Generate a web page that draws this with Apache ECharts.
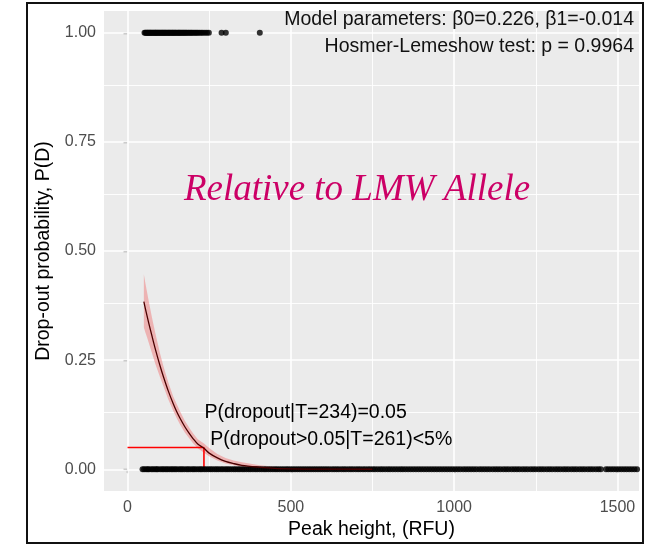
<!DOCTYPE html>
<html><head><meta charset="utf-8">
<script src="https://cdn.jsdelivr.net/npm/echarts@6/dist/echarts.min.js"></script>
<style>
html,body{margin:0;padding:0;background:#fff}
#c{width:648px;height:545px}
#b{position:absolute;left:26px;top:2px;width:614px;height:538px;border:2px solid #111;pointer-events:none}
</style>
</head><body><div id="c"></div><div id="b"></div>
<script>
// axis breaks / gridlines
const xMajor = [0, 500, 1000, 1500];
const xMinor = [250, 750, 1250];
const yMajor = [0, 0.25, 0.5, 0.75, 1];
const yMinor = [0.125, 0.375, 0.625, 0.875];

// observed drop-outs (P(D)=1)
const dropoutX = [52, 55, 57, 60, 62, 64, 67, 69, 71, 74, 76, 79, 81, 84, 86, 88, 91, 93, 96, 98, 101, 103, 106, 108, 111, 113, 116, 118, 121, 124, 126, 129, 131, 134, 137, 139, 142, 145, 147, 150, 153, 156, 158, 161, 164, 167, 170, 173, 176, 179, 182, 186, 189, 193, 196, 200, 204, 208, 212, 216, 221, 226, 231, 237, 243, 249, 288, 301, 405];

// observed detected alleles (P(D)=0)
const detectedX = [46, 51, 57, 62, 66, 73, 78, 84, 89, 93, 100, 106, 111, 117, 122, 128, 134, 139, 145, 150, 157, 163, 168, 174, 181, 186, 192, 199, 204, 210, 217, 223, 228, 235, 241, 248, 254, 260, 267, 273, 279, 286, 292, 299, 305, 311, 318, 325, 331, 338, 344, 351, 357, 364, 371, 377, 384, 391, 397, 404, 411, 418, 424, 431, 438, 445, 452, 458, 465, 472, 479, 486, 492, 499, 506, 513, 520, 527, 534, 541, 548, 555, 562, 569, 576, 583, 590, 597, 604, 611, 618, 626, 633, 640, 647, 655, 662, 669, 677, 684, 691, 699, 706, 713, 721, 728, 736, 743, 751, 758, 766, 774, 781, 789, 797, 804, 812, 820, 828, 836, 843, 851, 859, 867, 875, 883, 891, 899, 907, 915, 923, 931, 939, 947, 955, 963, 971, 979, 987, 995, 1003, 1011, 1019, 1028, 1036, 1044, 1052, 1060, 1068, 1077, 1085, 1093, 1101, 1109, 1118, 1126, 1134, 1142, 1151, 1159, 1167, 1176, 1184, 1192, 1200, 1209, 1217, 1225, 1234, 1242, 1250, 1259, 1267, 1275, 1284, 1292, 1300, 1309, 1317, 1325, 1334, 1342, 1350, 1359, 1367, 1375, 1384, 1392, 1400, 1409, 1417, 1425, 1434, 1442, 1449, 1465, 1472, 1480, 1488, 1496, 1504, 1512, 1520, 1528, 1536, 1544, 1552, 1560, 1568];

// fitted logistic curve and confidence band
const fitX   = [50, 55, 60, 65, 75, 85, 100, 110, 125, 140, 150, 160, 175, 190, 200, 215, 234, 250, 275, 300, 325, 350, 400, 450, 500, 600, 750];
const fitP   = [0.384, 0.367, 0.351, 0.335, 0.305, 0.276, 0.236, 0.212, 0.179, 0.150, 0.133, 0.118, 0.098, 0.081, 0.071, 0.058, 0.048, 0.037, 0.026, 0.018, 0.013, 0.009, 0.005, 0.002, 0.001, 0.0003, 0.0001];
const ciLow  = [0.325, 0.313, 0.302, 0.290, 0.266, 0.242, 0.210, 0.190, 0.160, 0.134, 0.118, 0.104, 0.085, 0.070, 0.060, 0.048, 0.038, 0.030, 0.020, 0.013, 0.009, 0.006, 0.003, 0.001, 0.0004, 0.0001, 0];
const ciHigh = [0.447, 0.425, 0.405, 0.385, 0.347, 0.312, 0.264, 0.236, 0.199, 0.167, 0.150, 0.134, 0.112, 0.094, 0.083, 0.069, 0.059, 0.049, 0.035, 0.026, 0.020, 0.016, 0.010, 0.006, 0.003, 0.001, 0.0003];

// threshold annotation
const thresholdT = 234;
const thresholdP = 0.05;
const annotText1 = 'P(dropout|T=234)=0.05';
const annotText2 = 'P(dropout>0.05|T=261)<5%';
const annotPos1 = [234, 0.130];
const annotPos2 = [252, 0.068];

const SANS = '"Liberation Sans", Arial, sans-serif';
const chart = echarts.init(document.getElementById('c'), null, {renderer: 'canvas'});

const gridLines = [];
xMajor.forEach(v => gridLines.push({xAxis: v, lineStyle: {width: 1.6}}));
xMinor.forEach(v => gridLines.push({xAxis: v, lineStyle: {width: 0.9}}));
yMajor.forEach(v => gridLines.push({yAxis: v, lineStyle: {width: 1.6}}));
yMinor.forEach(v => gridLines.push({yAxis: v, lineStyle: {width: 0.9}}));

const annotLabel = text => ({show: true, position: 'right', distance: 0, formatter: text,
  fontSize: 19.5, fontFamily: SANS, color: '#000', opacity: 1, textBorderWidth: 0});

chart.setOption({
  animation: false,
  grid: {left: 104, right: 9, top: 11, bottom: 52, show: true, backgroundColor: '#EBEBEB', borderWidth: 0},
  xAxis: {
    type: 'value', min: -72, max: 1566,
    splitLine: {show: false}, axisLine: {show: false},
    axisTick: {show: true, length: 4, lineStyle: {color: '#333', width: 1.2}, customValues: xMajor},
    axisLabel: {customValues: xMajor, color: '#4D4D4D', fontSize: 16, margin: 8, fontFamily: SANS,
      formatter: v => String(v)},
    name: 'Peak height, (RFU)', nameLocation: 'middle', nameGap: 28,
    nameTextStyle: {fontSize: 19.5, color: '#000', fontFamily: SANS}
  },
  yAxis: {
    type: 'value', min: -0.05, max: 1.05,
    splitLine: {show: false}, axisLine: {show: false},
    axisTick: {show: true, length: 4, lineStyle: {color: '#333', width: 1.2}, customValues: yMajor},
    axisLabel: {customValues: yMajor, color: '#4D4D4D', fontSize: 16, margin: 8, fontFamily: SANS,
      formatter: v => v.toFixed(2)},
    name: 'Drop-out probability, P(D)', nameLocation: 'middle', nameGap: 46,
    nameTextStyle: {fontSize: 19.5, color: '#000', fontFamily: SANS}
  },
  graphic: [
    {type: 'text', z: 100, style: {text: 'Model parameters: β0=0.226, β1=-0.014', x: 634, y: 20, align: 'right', verticalAlign: 'middle', fontSize: 19.5, fontFamily: SANS, fill: '#111'}},
    {type: 'text', z: 100, style: {text: 'Hosmer-Lemeshow test: p = 0.9964', x: 634, y: 47, align: 'right', verticalAlign: 'middle', fontSize: 19.5, fontFamily: SANS, fill: '#111'}},
    {type: 'text', z: 100, style: {text: 'Relative to LMW Allele', x: 357, y: 190, align: 'center', verticalAlign: 'middle', fontSize: 37, fontStyle: 'italic', fontFamily: '"Liberation Serif", "Times New Roman", serif', fill: '#CC0066'}}
  ],
  series: [
    {type: 'line', data: [], z: 1, silent: true,
      markLine: {z: 1, silent: true, symbol: ['none', 'none'], label: {show: false}, animation: false,
        lineStyle: {color: '#FFFFFF', type: 'solid'}, emphasis: {disabled: true}, data: gridLines}},
    {type: 'custom', z: 2, silent: true, clip: true, data: [[0, 0]],
      renderItem: function (params, api) {
        const pts = [];
        for (let i = 0; i < fitX.length; i++) pts.push(api.coord([fitX[i], ciHigh[i]]));
        for (let i = fitX.length - 1; i >= 0; i--) pts.push(api.coord([fitX[i], ciLow[i]]));
        return {type: 'polygon', shape: {points: pts}, style: {fill: 'rgba(240,110,110,0.45)'}};
      }},
    {type: 'line', z: 3, silent: true, symbol: 'none',
      data: [[0, thresholdP], [thresholdT, thresholdP], [thresholdT, 0]],
      lineStyle: {color: '#FF0000', width: 1.6, opacity: 1}},
    {type: 'scatter', z: 4, silent: true, symbol: 'circle', symbolSize: 6,
      itemStyle: {color: '#000'}, data: detectedX.map(x => [x, 0])},
    {type: 'scatter', z: 4, silent: true, symbol: 'circle', symbolSize: 6,
      itemStyle: {color: '#000'}, data: dropoutX.map(x => [x, 1])},
    {type: 'line', z: 5, silent: true, symbol: 'none', smooth: 0.3,
      data: fitX.map((x, i) => [x, fitP[i]]),
      lineStyle: {color: '#4a0000', width: 1.3}},
    {type: 'scatter', z: 6, silent: true, symbolSize: 1, itemStyle: {color: 'rgba(0,0,0,0)'},
      data: [annotPos1], label: annotLabel(annotText1)},
    {type: 'scatter', z: 6, silent: true, symbolSize: 1, itemStyle: {color: 'rgba(0,0,0,0)'},
      data: [annotPos2], label: annotLabel(annotText2)}
  ]
});
</script>
</body></html>
